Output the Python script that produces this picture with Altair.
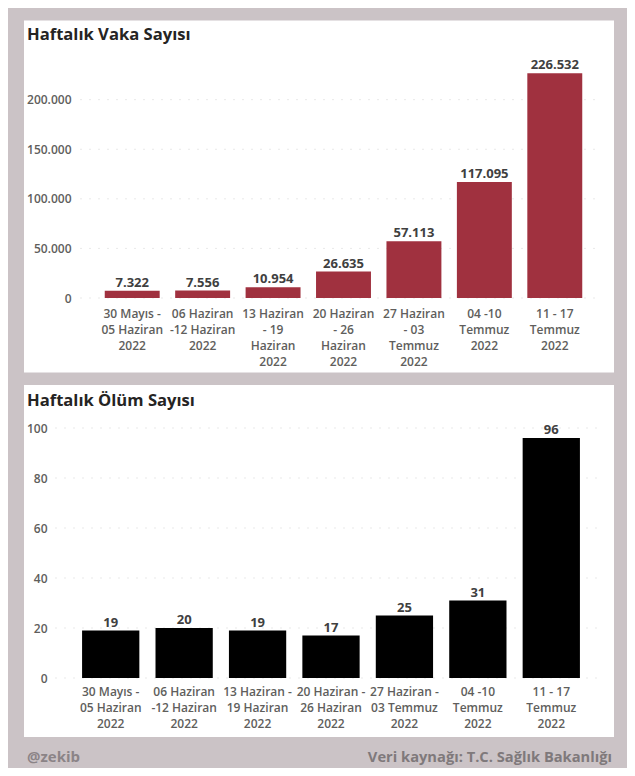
import altair as alt
import pandas as pd

# ---- data ----
weeks_cases = [
    ["30 Mayıs -", "05 Haziran", "2022"],
    ["06 Haziran", "-12 Haziran", "2022"],
    ["13 Haziran", "- 19", "Haziran", "2022"],
    ["20 Haziran", "- 26", "Haziran", "2022"],
    ["27 Haziran", "- 03", "Temmuz", "2022"],
    ["04 -10", "Temmuz", "2022"],
    ["11 - 17", "Temmuz", "2022"],
]
cases = [7322, 7556, 10954, 26635, 57113, 117095, 226532]

weeks_deaths = [
    ["30 Mayıs -", "05 Haziran", "2022"],
    ["06 Haziran", "-12 Haziran", "2022"],
    ["13 Haziran -", "19 Haziran", "2022"],
    ["20 Haziran -", "26 Haziran", "2022"],
    ["27 Haziran -", "03 Temmuz", "2022"],
    ["04 -10", "Temmuz", "2022"],
    ["11 - 17", "Temmuz", "2022"],
]
deaths = [19, 20, 19, 17, 25, 31, 96]

cases_ticks = [0, 50000, 100000, 150000, 200000]
deaths_ticks = [0, 20, 40, 60, 80, 100]

title_cases = "Haftalık Vaka Sayısı"
title_deaths = "Haftalık Ölüm Sayısı"
footer_left = "@zekib"
footer_right = "Veri kaynağı: T.C. Sağlık Bakanlığı"

# ---- styling ----
FONT = "Open Sans"
BG = "#cbc3c6"
BAR_RED = "#a0313f"
BAR_BLACK = "#000000"
AXIS_LABEL = "#605e5c"
DATA_LABEL = "#404040"
TITLE_COLOR = "#252423"


def tr_num(v):
    return f"{v:,}".replace(",", ".")


def panel(weeks, values, ticks, dom_max, width, height, x_range, y_pad,
          x_pad, title, title_y, bar_color, panel_box, grid_x, footer=None):
    cats = ["|".join(w) for w in weeks]
    df = pd.DataFrame({"week": cats, "value": values,
                       "label": [tr_num(v) for v in values]})
    if x_range is not None:
        scale_x = alt.Scale(range=x_range, paddingInner=0.22, paddingOuter=0.11)
    else:
        scale_x = alt.Scale(paddingInner=0.22, paddingOuter=0.11)
    x = alt.X("week:N", sort=cats, title=None, scale=scale_x,
              axis=alt.Axis(labelAngle=0, labelExpr="split(datum.label, '|')",
                            domain=False, ticks=False, grid=False,
                            labelPadding=x_pad, zindex=1,
                            labelFont=FONT, labelFontSize=12, labelFontWeight=600,
                            labelColor=AXIS_LABEL, labelLineHeight=16,
                            labelBaseline="top", labelOverlap=False, labelLimit=200))
    yscale = alt.Scale(domain=[0, dom_max], nice=False)
    yaxis = alt.Axis(values=ticks, domain=False, ticks=False, grid=False,
                     labelExpr="replace(format(datum.value, ','), ',', '.')",
                     labelPadding=y_pad, labelFont=FONT, labelFontSize=12,
                     labelFontWeight=600, labelColor=AXIS_LABEL, zindex=1)
    y = alt.Y("value:Q", title=None, scale=yscale, axis=yaxis)
    base = alt.Chart(df)
    box = alt.Chart(pd.DataFrame({"k": [0]})).mark_rect(color="white").encode(
        x=alt.value(panel_box[0]), x2=alt.value(panel_box[1]),
        y=alt.value(panel_box[2]), y2=alt.value(panel_box[3]))
    grid = alt.Chart(pd.DataFrame({"value": ticks})).mark_rule(
        color="#e9e9e9", strokeDash=[2, 7], strokeWidth=1).encode(
        y=alt.Y("value:Q", title=None, scale=yscale, axis=yaxis),
        x=alt.value(grid_x[0]), x2=alt.value(grid_x[1]))
    bars = base.mark_bar(color=bar_color).encode(x=x, y=y)
    labels = base.mark_text(baseline="alphabetic", dy=-4, font=FONT,
                            fontSize=13, fontWeight="bold",
                            color=DATA_LABEL).encode(x=x, y=y, text="label:N")
    ttl = alt.Chart(pd.DataFrame({"t": [title]})).mark_text(
        align="left", baseline="alphabetic", font=FONT, fontSize=16.6,
        fontWeight="bold", color=TITLE_COLOR).encode(
        x=alt.value(-47), y=alt.value(title_y), text="t:N")
    layers = [box, grid, bars, labels, ttl]
    if footer is not None:
        f1 = alt.Chart(pd.DataFrame({"t": [footer[0]]})).mark_text(
            align="left", baseline="alphabetic", font=FONT, fontSize=15,
            fontWeight="bold", color="#8b8487").encode(
            x=alt.value(-47), y=alt.value(334), text="t:N")
        f2 = alt.Chart(pd.DataFrame({"t": [footer[1]]})).mark_text(
            align="right", baseline="alphabetic", font=FONT, fontSize=14.7,
            fontWeight="bold", color="#7f797b").encode(
            x=alt.value(538), y=alt.value(334), text="t:N")
        layers += [f1, f2]
    return alt.layer(*layers).properties(width=width, height=height)


top = panel(weeks_cases, cases, cases_ticks, 240000, 516, 238, [23, 516],
            3, 10, title_cases, -20, BAR_RED, (-50, 540, -39.4, 312.6), (6, 524))
bottom = panel(weeks_deaths, deaths, deaths_ticks, 100, 514, 250, None,
               27, 8, title_deaths, -22, BAR_BLACK, (-50, 540, -43, 309), (-19, 526),
               footer=(footer_left, footer_right))

chart = alt.vconcat(top, bottom, spacing=12).properties(
    background=BG,
    padding={"left": 16, "top": 12, "right": 13, "bottom": 3},
).configure_view(stroke=None)

chart.save("out.html", embed_options={"renderer": "svg", "actions": False})
